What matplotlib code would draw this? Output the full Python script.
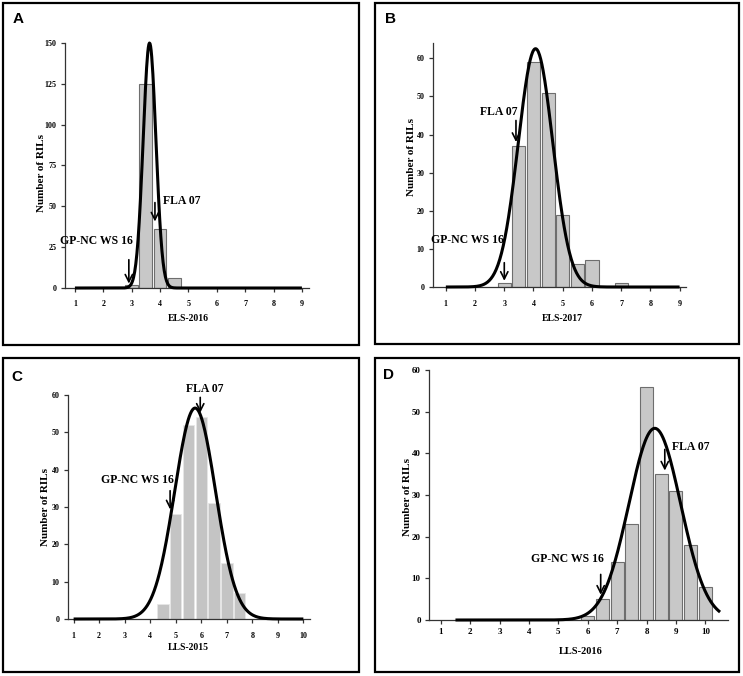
import numpy as np
import matplotlib.pyplot as plt
from matplotlib.patches import Rectangle

W, H = 743, 676

# bar data (bin centre, number of RILs)
elsA_bins = [3.0, 3.5, 4.0, 4.5]
elsA_counts = [2, 125, 36, 6]
elsB_bins = [3.0, 3.5, 4.0, 4.5, 5.0, 5.5, 6.0, 7.0]
elsB_counts = [1, 37, 59, 51, 19, 6, 7, 1]
llsC_bins = [4.5, 5.0, 5.5, 6.0, 6.5, 7.0, 7.5]
llsC_counts = [4, 28, 52, 54, 31, 15, 7]
llsD_bins = [6.0, 6.5, 7.0, 7.5, 8.0, 8.5, 9.0, 9.5, 10.0]
llsD_counts = [1, 5, 14, 23, 56, 35, 31, 18, 8]

# fitted normal curves: mean, sd, peak, x start, x end
fitA = (3.63, 0.225, 150, 1, 9)
fitB = (4.07, 0.59, 62.5, 1, 9)
fitC = (5.76, 0.80, 56.5, 1, 10)
fitD = (8.28, 0.88, 46, 1.5, 10.5)

xlabels = ['ELS-2016', 'ELS-2017', 'LLS-2015', 'LLS-2016']
letters = ['A', 'B', 'C', 'D']

serif = 'Liberation Serif'


def fx(px):
    return px / W


def fy(py):
    return 1 - py / H


def add_axes(l, t, r, b):
    return fig.add_axes([fx(l), fy(b), (r - l) / W, (b - t) / H])


def style(ax, xlim, ylim, xticks, yticks, tsize, xpad):
    ax.set_xlim(*xlim)
    ax.set_ylim(*ylim)
    ax.set_xticks(xticks)
    ax.set_yticks(yticks)
    for s in ['top', 'right']:
        ax.spines[s].set_visible(False)
    for s in ['left', 'bottom']:
        ax.spines[s].set_color('#333333')
        ax.spines[s].set_linewidth(0.9)
    ax.tick_params(direction='out', length=3, width=0.9, color='#333333', pad=3)
    ax.tick_params(axis='x', pad=xpad)
    for lab in ax.get_xticklabels() + ax.get_yticklabels():
        lab.set_fontfamily(serif)
        lab.set_fontweight('bold')
        lab.set_fontsize(tsize)
    ax.patch.set_alpha(0)


def curve(ax, fit):
    m, sd, pk, x0, x1 = fit
    xs = np.linspace(x0, x1, 400)
    ax.plot(xs, pk * np.exp(-(xs - m) ** 2 / (2 * sd ** 2)), color='black', lw=2.2,
            clip_on=False, zorder=4, solid_capstyle='butt')


def arrow(ax, x, y0, y1):
    ax.annotate('', xy=(x, y1), xytext=(x, y0),
                arrowprops=dict(arrowstyle='->', lw=1.2, color='black', mutation_scale=13),
                zorder=5, annotation_clip=False)


def label(ax, x, y, s, size=8.5):
    ax.text(x, y, s, ha='center', va='center', fontfamily=serif, fontweight='bold',
            fontsize=size, zorder=6, clip_on=False)


fig = plt.figure(figsize=(W / 100, H / 100), dpi=100)

# panel frames
frames = [(3, 3, 359, 345), (375, 3, 739, 344), (3, 358, 359, 672), (375, 358, 739, 672)]
for l, t, r, b in frames:
    fig.add_artist(Rectangle((fx(l), fy(b)), (r - l) / W, (b - t) / H, transform=fig.transFigure,
                             fill=False, lw=1.6, ec='black'))

letter_pos = [(18, 19), (390, 19), (17, 377), (389, 375)]
for (px, py), s in zip(letter_pos, letters):
    fig.text(fx(px), fy(py), s, ha='center', va='center', fontfamily='Liberation Sans',
             fontweight='bold', fontsize=11)

# A
axA = add_axes(65, 43, 309, 288)
axA.bar(elsA_bins, elsA_counts, width=0.45, color='#c8c8c8', edgecolor='#6e6e6e', lw=0.8)
curve(axA, fitA)
style(axA, (0.65, 9.25), (0, 150), range(1, 10), range(0, 151, 25), 5.8, 6)
arrow(axA, 2.9, 19, 1)
label(axA, 1.77, 29, 'GP-NC WS 16')
arrow(axA, 3.82, 54, 39)
label(axA, 4.78, 53, 'FLA 07')

# B
axB = add_axes(433, 43, 686, 287)
axB.bar(elsB_bins, elsB_counts, width=0.45, color='#c8c8c8', edgecolor='#6e6e6e', lw=0.8)
curve(axB, fitB)
style(axB, (0.56, 9.22), (0, 64), range(1, 10), range(0, 61, 10), 5.8, 6)
arrow(axB, 3.0, 7.1, 0.9)
label(axB, 1.75, 12.2, 'GP-NC WS 16')
arrow(axB, 3.40, 44.4, 37.3)
label(axB, 2.8, 45.9, 'FLA 07')

# C
axC = add_axes(68, 395, 310, 619)
axC.bar(llsC_bins, llsC_counts, width=0.45, color='#c4c4c4', edgecolor='#e6e6e6', lw=0.6)
curve(axC, fitC)
style(axC, (0.78, 10.26), (0, 60), range(1, 11), range(0, 61, 10), 5.8, 6)
arrow(axC, 4.78, 35.1, 28.6)
label(axC, 3.5, 37.3, 'GP-NC WS 16')
arrow(axC, 5.96, 60.1, 54.5)
label(axC, 6.15, 61.6, 'FLA 07')

# D
axD = add_axes(429, 370, 728, 620)
axD.bar(llsD_bins, llsD_counts, width=0.44, color='#c8c8c8', edgecolor='#6e6e6e', lw=0.8)
curve(axD, fitD)
style(axD, (0.6, 10.77), (0, 60), range(1, 11), range(0, 61, 10), 6.5, 3)
arrow(axD, 6.44, 11.6, 5.4)
label(axD, 5.3, 14.6, 'GP-NC WS 16')
arrow(axD, 8.62, 41.6, 35.2)
label(axD, 9.5, 41.4, 'FLA 07')

# axis titles
ylab_pos = [(42, 173), (412, 157), (46, 507), (407, 497)]
xlab_pos = [(188, 318), (562, 318), (188, 648), (581, 652)]
for i in range(4):
    fig.text(fx(ylab_pos[i][0]), fy(ylab_pos[i][1]), 'Number of RILs', rotation=90,
             ha='center', va='center', fontfamily=serif, fontweight='bold', fontsize=8)
    fig.text(fx(xlab_pos[i][0]), fy(xlab_pos[i][1]), xlabels[i], ha='center', va='center',
             fontfamily=serif, fontweight='bold', fontsize=7 if i < 3 else 7.5)

fig.savefig('out.png', dpi=100)
